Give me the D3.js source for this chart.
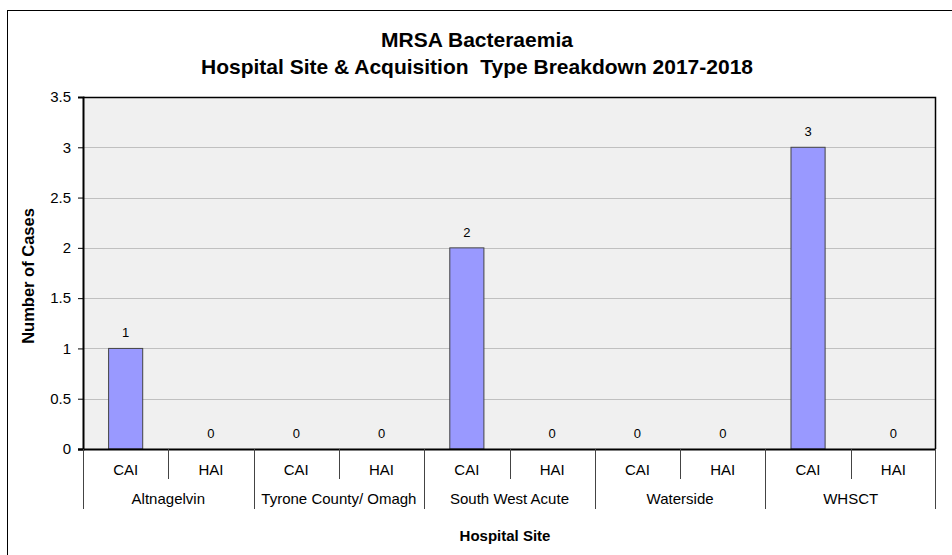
<!DOCTYPE html>
<html><head><meta charset="utf-8">
<script src="https://cdn.jsdelivr.net/npm/d3@7"></script>
<style>body{margin:0;background:#fff}svg{display:block}text{font-family:Arial,"Liberation Sans",sans-serif;fill:#000}</style>
</head><body>
<svg id="c" width="952" height="555"></svg>
<script>
const sites = ["Altnagelvin","Tyrone County/ Omagh","South West Acute","Waterside","WHSCT"];
const types = ["CAI","HAI"];
const values = [1,0, 0,0, 2,0, 0,0, 3,0];
const yTicks = [0,0.5,1,1.5,2,2.5,3,3.5];
const titleLines = ["MRSA Bacteraemia","Hospital Site & Acquisition  Type Breakdown 2017-2018"];
const yTitle = "Number of Cases";
const xTitle = "Hospital Site";

const svg = d3.select("#c");
const m = {l:83, r:936, t:97, b:449};
const rows = [];
sites.forEach((s,i)=>types.forEach((t,j)=>rows.push({site:s,type:t,key:s+"|"+t,v:values[i*2+j]})));

svg.append("rect").attr("x",7.5).attr("y",10.5).attr("width",1000).attr("height",600)
  .attr("fill","#fff").attr("stroke","#000");

const x = d3.scaleBand().domain(rows.map(d=>d.key)).range([m.l,m.r]);
const y = d3.scaleLinear().domain([0,3.5]).range([m.b,m.t]);

svg.append("rect").attr("x",m.l).attr("y",m.t).attr("width",m.r-m.l).attr("height",m.b-m.t)
  .attr("fill","#f0f0f0");

svg.append("g").selectAll("line").data(yTicks.filter(t=>t>0&&t<3.5)).join("line")
  .attr("x1",m.l).attr("x2",m.r).attr("y1",d=>Math.round(y(d))+0.5).attr("y2",d=>Math.round(y(d))+0.5)
  .attr("stroke","#c0c0c0").attr("stroke-width",1);

// bars
const bw = x.bandwidth()*0.4;
svg.append("g").selectAll("rect").data(rows.filter(d=>d.v>0)).join("rect")
  .attr("x",d=>x(d.key)+(x.bandwidth()-bw)/2).attr("y",d=>y(d.v))
  .attr("width",bw).attr("height",d=>y(0)-y(d.v))
  .attr("fill","#9999ff").attr("stroke","#444").attr("stroke-width",1);

// value labels
svg.append("g").selectAll("text").data(rows).join("text")
  .attr("x",d=>x(d.key)+x.bandwidth()/2).attr("y",d=>y(d.v)-11)
  .attr("text-anchor","middle").attr("font-size",13).text(d=>d.v);

// plot border top/right
svg.append("path").attr("d",`M${m.l},${m.t+0.5}H${m.r-0.5}V${m.b}`).attr("fill","none").attr("stroke","#000").attr("stroke-width",1.5);

// y axis
const ya = d3.axisLeft(y).tickValues(yTicks).tickSize(5).tickPadding(7).tickFormat(d3.format("~g"));
const gy = svg.append("g").attr("transform",`translate(${m.l},0)`).call(ya);
gy.select(".domain").attr("stroke","#000").attr("stroke-width",2);
gy.selectAll(".tick line").attr("stroke","#000");
gy.selectAll(".tick text").attr("font-size",15).attr("font-family","Arial, 'Liberation Sans', sans-serif").attr("fill","#000");

// x axis line
svg.append("line").attr("x1",m.l-5).attr("x2",m.r).attr("y1",m.b+0.5).attr("y2",m.b+0.5).attr("stroke","#000").attr("stroke-width",2);

// category separators
const gx = svg.append("g");
rows.forEach((d,i)=>{
  const xx = Math.round(x(d.key))+0.5;
  const long = i%2===0;
  gx.append("line").attr("x1",xx).attr("x2",xx).attr("y1",m.b).attr("y2",long?509:479).attr("stroke","#444");
});
gx.append("line").attr("x1",m.r-0.5).attr("x2",m.r-0.5).attr("y1",m.b).attr("y2",509).attr("stroke","#444");

gx.selectAll("text.t").data(rows).join("text").attr("class","t")
  .attr("x",d=>x(d.key)+x.bandwidth()/2).attr("y",475).attr("text-anchor","middle").attr("font-size",15).text(d=>d.type);
gx.selectAll("text.s").data(sites).join("text").attr("class","s")
  .attr("x",(d,i)=>x(rows[i*2].key)+x.bandwidth()).attr("y",504).attr("text-anchor","middle").attr("font-size",15).text(d=>d);

// titles
svg.append("g").selectAll("text").data(titleLines).join("text")
  .attr("x",477).attr("y",(d,i)=>47+i*27).attr("text-anchor","middle").attr("font-size",21).attr("font-weight","bold")
  .attr("xml:space","preserve").style("white-space","pre").text(d=>d);

svg.append("text").attr("transform","translate(34,276) rotate(-90)").attr("text-anchor","middle")
  .attr("font-size",16.5).attr("font-weight","bold").text(yTitle);
svg.append("text").attr("x",505).attr("y",541).attr("text-anchor","middle")
  .attr("font-size",15).attr("font-weight","bold").text(xTitle);
</script>
</body></html>
